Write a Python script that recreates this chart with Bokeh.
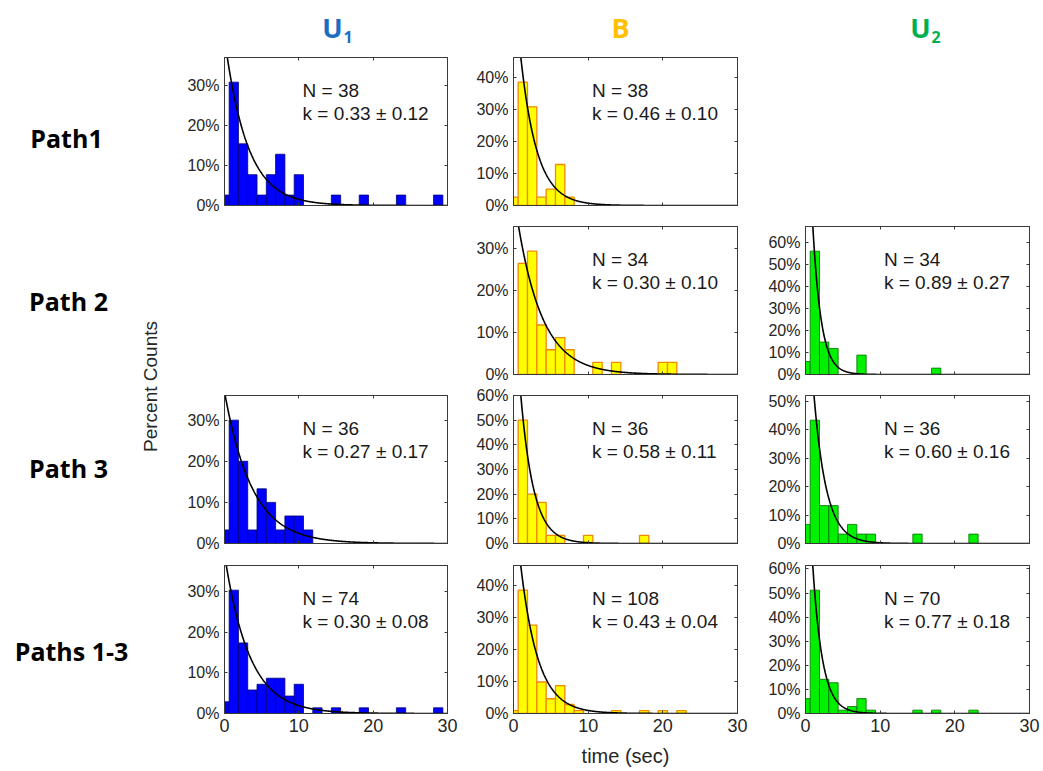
import numpy as np
from bokeh.plotting import figure
from bokeh.layouts import row, column
from bokeh.models import Range1d, FixedTicker, LinearAxis, Spacer, CustomLabelingPolicy
from bokeh.embed import file_html
from bokeh.resources import INLINE
from bokeh.core.properties import value

# ---------------- data ----------------
bin_width = 1.25
bin_centers = [0.0, 1.25, 2.5, 3.75, 5.0, 6.25, 7.5, 8.75, 10.0, 11.25, 12.5, 13.75,
               15.0, 16.25, 17.5, 18.75, 20.0, 21.25, 22.5, 23.75, 25.0, 26.25, 27.5, 28.75]

u1_path1 = [2.6, 30.8, 15.4, 7.7, 2.6, 7.7, 12.8, 2.6, 7.7, 0, 0, 0, 2.6, 0, 0, 2.6, 0, 0, 0, 2.6, 0, 0, 0, 2.6]
b_path1 = [2.6, 38.5, 30.8, 2.6, 5.1, 12.8, 2.6, 0, 0, 0, 0, 0, 0, 0, 0, 0, 0, 0, 0, 0, 0, 0, 0, 0]
b_path2 = [0, 26.5, 29.4, 11.8, 5.9, 8.8, 5.9, 0, 0, 2.9, 0, 2.9, 0, 0, 0, 0, 2.9, 2.9, 0, 0, 0, 0, 0, 0]
u2_path2 = [5.9, 55.9, 14.7, 11.8, 0, 0, 8.8, 0, 0, 0, 0, 0, 0, 0, 2.9, 0, 0, 0, 0, 0, 0, 0, 0, 0]
u1_path3 = [3.3, 30.0, 20.0, 3.3, 13.3, 10.0, 3.3, 6.7, 6.7, 3.3, 0, 0, 0, 0, 0, 0, 0, 0, 0, 0, 0, 0, 0, 0]
b_path3 = [0, 50.0, 20.0, 16.7, 3.3, 3.3, 0, 0, 3.3, 0, 0, 0, 0, 0, 3.3, 0, 0, 0, 0, 0, 0, 0, 0, 0]
u2_path3 = [6.7, 43.3, 13.3, 13.3, 3.3, 6.7, 3.3, 3.3, 0, 0, 0, 0, 3.3, 0, 0, 0, 0, 0, 3.3, 0, 0, 0, 0, 0]
u1_all = [2.9, 30.4, 17.4, 5.8, 7.2, 8.7, 8.7, 4.3, 7.2, 0, 1.4, 0, 1.4, 0, 0, 1.4, 0, 0, 0, 1.4, 0, 0, 0, 1.4]
b_all = [0.9, 38.4, 27.5, 9.8, 4.6, 8.7, 2.8, 0.9, 0, 0, 0, 0.9, 0, 0, 0.9, 0, 0.9, 0, 0.9, 0, 0, 0, 0, 0]
u2_all = [6.2, 51.2, 14.2, 12.8, 1.4, 2.9, 6.2, 1.4, 0, 0, 0, 0, 1.4, 0, 1.4, 0, 0, 0, 1.4, 0, 0, 0, 0, 0]

# N, fitted rate k, error on k, fitted amplitude (percent)
n_counts = {"u1_path1": 38, "b_path1": 38, "b_path2": 34, "u2_path2": 34, "u1_path3": 36,
            "b_path3": 36, "u2_path3": 36, "u1_all": 74, "b_all": 108, "u2_all": 70}
k_rates = {"u1_path1": 0.33, "b_path1": 0.46, "b_path2": 0.30, "u2_path2": 0.89, "u1_path3": 0.27,
           "b_path3": 0.58, "u2_path3": 0.60, "u1_all": 0.30, "b_all": 0.43, "u2_all": 0.77}
k_errors = {"u1_path1": 0.12, "b_path1": 0.10, "b_path2": 0.10, "u2_path2": 0.27, "u1_path3": 0.17,
            "b_path3": 0.11, "u2_path3": 0.16, "u1_all": 0.08, "b_all": 0.04, "u2_all": 0.18}
fit_amp = {"u1_path1": 41.9, "b_path1": 72.6, "b_path2": 43.3, "u2_path2": 161.0, "u1_path3": 36.9,
           "b_path3": 106.0, "u2_path3": 103.0, "u1_all": 39.2, "b_all": 70.0, "u2_all": 130.0}

x_ticks = [0, 10, 20, 30]
y_ticks = [0, 10, 20, 30, 40, 50, 60]
col_titles = ["U", "B", "U"]
col_subscripts = ["1", "2"]
row_titles = ["Path1", "Path 2", "Path 3", "Paths 1-3"]

# ---------------- style ----------------
AXC = "#3a3a3a"
TXT = "#262626"
STY = {
    "u1": dict(fill="#0000FF", line="#00007A", lw=0.8),
    "b": dict(fill="#FFFF00", line="#F08A00", lw=1.3),
    "u2": dict(fill="#00F000", line="#007000", lw=0.8),
}
COLS = {"u1": dict(fw=223, lb=49, rb=21),
        "b": dict(fw=224, lb=45, rb=22),
        "u2": dict(fw=224, lb=46, rb=14)}
ROWS = [dict(tb=7, bb=10), dict(tb=11, bb=10), dict(tb=11, bb=11), dict(tb=11, bb=58)]
HEADER_H = 50

HIDE_CODE = """
for (const i of indices) { indices.unset(i) }
return indices
"""


def style_axis(ax, labels_on, lab_size):
    ax.axis_line_color = AXC
    ax.major_tick_line_color = AXC
    ax.major_tick_in = 3
    ax.major_tick_out = 0
    ax.minor_tick_line_color = None
    ax.major_label_text_font = "Liberation Sans"
    ax.major_label_text_color = TXT
    if labels_on:
        ax.major_label_text_font_size = lab_size
        ax.major_label_standoff = 5
    else:
        ax.major_label_text_font_size = "1px"
        ax.major_label_standoff = 0
        ax.major_label_policy = CustomLabelingPolicy(code=HIDE_CODE)


def panel(key, heights, col, r, xlabel=None):
    st = STY[col]
    cg = COLS[col]
    rg = ROWS[r]
    ymax = 1.2 * max(heights)
    p = figure(frame_width=cg["fw"], frame_height=148,
               x_range=Range1d(0, 30), y_range=Range1d(0, ymax),
               output_backend="svg", toolbar_location=None,
               min_border_left=cg["lb"], min_border_right=cg["rb"],
               min_border_top=rg["tb"], min_border_bottom=rg["bb"],
               background_fill_color="white", border_fill_color="white")
    p.grid.visible = False
    p.outline_line_color = AXC
    p.xaxis.ticker = FixedTicker(ticks=x_ticks)
    p.yaxis.ticker = FixedTicker(ticks=y_ticks)
    p.yaxis.major_label_overrides = {t: f"{t}%" for t in y_ticks}
    style_axis(p.xaxis[0], r == 3, "18px")
    style_axis(p.yaxis[0], True, "16px")
    if xlabel:
        p.xaxis.axis_label = xlabel
        p.xaxis.axis_label_text_font = "Liberation Sans"
        p.xaxis.axis_label_text_font_size = "20px"
        p.xaxis.axis_label_text_font_style = "normal"
        p.xaxis.axis_label_text_color = TXT
        p.xaxis.axis_label_standoff = 10
    top_ax = LinearAxis(ticker=FixedTicker(ticks=x_ticks))
    style_axis(top_ax, False, "1px")
    p.add_layout(top_ax, "above")
    right_ax = LinearAxis(ticker=FixedTicker(ticks=y_ticks))
    style_axis(right_ax, False, "1px")
    p.add_layout(right_ax, "right")

    xs = [c for c, h in zip(bin_centers, heights) if h > 0]
    hs = [h for h in heights if h > 0]
    p.vbar(x=xs, top=hs, bottom=0, width=bin_width, fill_color=st["fill"],
           line_color=st["line"], line_width=st["lw"])

    t = np.linspace(0, 30, 600)
    y = fit_amp[key] * np.exp(-k_rates[key] * t)
    p.line(t, y, line_color="black", line_width=1.6)

    p.text(x=[0.35 * 30, 0.35 * 30], y=[ymax * 0.78, ymax * 0.62],
           text=[f"N = {n_counts[key]}", f"k = {k_rates[key]:.2f} \u00b1 {k_errors[key]:.2f}"],
           text_font=value("Liberation Sans"), text_font_size="19px",
           text_baseline="middle", text_align="left", text_color="#1a1a1a")
    return p


# ---------------- header ----------------
header = figure(frame_width=1043, frame_height=HEADER_H, x_range=Range1d(0, 1043),
                y_range=Range1d(HEADER_H, 0),
                output_backend="svg", toolbar_location=None, min_border=0,
                x_axis_location=None, y_axis_location=None, outline_line_color=None)
header.grid.visible = False
header.text(x=[332, 620, 920], y=[27, 27, 27], text=col_titles,
            text_color=["#1C6DC1", "#FFC000", "#00B050"],
            text_font=value("Open Sans"), text_font_style="bold", text_font_size="27px",
            text_align="center", text_baseline="middle")
header.text(x=[343, 931], y=[36, 36], text=col_subscripts,
            text_color=["#1C6DC1", "#00B050"],
            text_font=value("Open Sans"), text_font_style="bold", text_font_size="16px",
            text_align="left", text_baseline="middle")

# ---------------- left labels ----------------
LH = 771 - HEADER_H
left = figure(frame_width=175, frame_height=LH, x_range=Range1d(0, 175), y_range=Range1d(LH, 0),
              output_backend="svg", toolbar_location=None, min_border=0,
              x_axis_location=None, y_axis_location=None, outline_line_color=None)
left.grid.visible = False
left.text(x=[66, 68, 68, 71], y=[137 - HEADER_H, 300 - HEADER_H, 467 - HEADER_H, 650 - HEADER_H],
          text=row_titles,
          text_font=value("Open Sans"), text_font_style="bold", text_font_size="25px",
          text_color="black", text_align="center", text_baseline="middle")
left.text(x=[150], y=[386 - HEADER_H], text=["Percent Counts"], angle=np.pi / 2,
          text_font=value("Liberation Sans"), text_font_size="19px",
          text_color=TXT, text_align="center", text_baseline="middle")

# ---------------- panels ----------------
p_u1_1 = panel("u1_path1", u1_path1, "u1", 0)
p_u1_3 = panel("u1_path3", u1_path3, "u1", 2)
p_u1_4 = panel("u1_all", u1_all, "u1", 3)
p_b_1 = panel("b_path1", b_path1, "b", 0)
p_b_2 = panel("b_path2", b_path2, "b", 1)
p_b_3 = panel("b_path3", b_path3, "b", 2)
p_b_4 = panel("b_all", b_all, "b", 3, xlabel="time (sec)")
p_u2_2 = panel("u2_path2", u2_path2, "u2", 1)
p_u2_3 = panel("u2_path3", u2_path3, "u2", 2)
p_u2_4 = panel("u2_all", u2_all, "u2", 3)

col1 = column(p_u1_1, Spacer(width=293, height=169), p_u1_3, p_u1_4, spacing=0)
col2 = column(p_b_1, p_b_2, p_b_3, p_b_4, spacing=0)
col3 = column(Spacer(width=284, height=165), p_u2_2, p_u2_3, p_u2_4, spacing=0)
body = row(left, col1, col2, col3, spacing=0)
layout = column(header, body, spacing=0)

open("out.html", "w").write(file_html(layout, INLINE, title="Dwell time histograms"))
